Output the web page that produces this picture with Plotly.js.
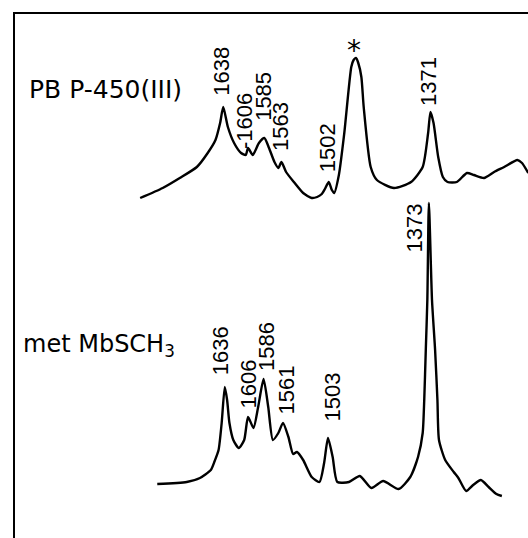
<!DOCTYPE html>
<html>
<head>
<meta charset="utf-8">
<script src="https://cdn.plot.ly/plotly-3.0.1.min.js"></script>
<style>
  html, body { margin: 0; padding: 0; background: #ffffff; }
  #chart { width: 528px; height: 538px; }
</style>
</head>
<body>
<div id="chart"></div>
<script>
// Resonance Raman spectra, high-frequency region (cm^-1), intensities in arbitrary units.

// PB P-450(III)
const topWavenumber = [1745, 1716, 1694, 1672, 1658, 1648, 1642, 1638, 1632, 1624,
  1615, 1609, 1606, 1600, 1592, 1585, 1579, 1572, 1567, 1563,
  1557, 1547, 1535, 1524, 1517, 1511, 1507, 1502, 1498, 1495,
  1489, 1482, 1473, 1470, 1467, 1464, 1460, 1457, 1448, 1440,
  1418, 1396, 1381, 1374, 1371, 1367, 1361, 1355, 1349, 1337,
  1324, 1315, 1302, 1289, 1276, 1259, 1253, 1245];
const topIntensity = [12, 22, 32, 43, 57, 70, 87, 103, 83, 67,
  57, 55, 62, 55, 67, 72, 62, 48, 42, 48,
  38, 28, 17, 12, 13, 16, 21, 28, 20, 17,
  35, 77, 143, 150, 152, 147, 133, 103, 43, 30,
  22, 28, 43, 77, 98, 87, 53, 33, 28, 28,
  37, 35, 32, 38, 43, 50, 47, 37];

// met MbSCH3
const bottomWavenumber = [1723, 1685, 1668, 1654, 1649, 1644, 1640, 1636, 1633, 1630,
  1625, 1618, 1611, 1606, 1599, 1593, 1586, 1580, 1574, 1567,
  1561, 1554, 1548, 1543, 1535, 1524, 1514, 1508, 1503, 1497,
  1491, 1476, 1462, 1447, 1432, 1412, 1397, 1387, 1381, 1379,
  1377, 1375, 1373, 1369, 1365, 1362, 1360, 1352, 1341, 1335,
  1325, 1316, 1306, 1296, 1286, 1279];
const bottomIntensity = [16, 18, 22, 30, 39, 50, 77, 113, 100, 77,
  60, 52, 60, 83, 72, 93, 121, 93, 60, 67,
  77, 63, 46, 48, 40, 23, 18, 37, 62, 43,
  18, 18, 24, 12, 19, 11, 23, 43, 67, 100,
  150, 200, 297, 200, 150, 100, 60, 40, 28, 22,
  9, 15, 20, 13, 6, 4];

// Peak assignments marked on each spectrum
const topPeakLabels = [1638, 1606, 1585, 1563, 1502, 1371];
const bottomPeakLabels = [1636, 1606, 1586, 1561, 1503, 1373];

// Sample names
const topName = 'PB P-450(III)';
const bottomName = 'met MbSCH<sub>3</sub>';

// Vertical stacking of the two spectra
const TOP_OFFSET = 328;
const BOTTOM_OFFSET = 38;

// Label placement tweaks in pixels: [xshift, yshift] and an optional prefix
const topLabelPlacement = {
  1638: [-2, 10, ''], 1606: [-4, -2, '-'], 1585: [-1, 16, ''],
  1563: [-1, 10, ''], 1502: [-1, 9, ''], 1371: [-2, 5, '']
};
const bottomLabelPlacement = {
  1636: [-4, 11, ''], 1606: [0, 7, ''], 1586: [3, 7, ''],
  1561: [4, 8, ''], 1503: [4, 15, ''], 1373: [-14, -50, '']
};

const shifted = (arr, off) => arr.map(v => v + off);

const lineStyle = { color: '#000000', width: 2.4, shape: 'spline', smoothing: 0.6 };

const traces = [
  { x: topWavenumber, y: shifted(topIntensity, TOP_OFFSET), mode: 'lines',
    line: lineStyle, hoverinfo: 'skip', showlegend: false },
  { x: bottomWavenumber, y: shifted(bottomIntensity, BOTTOM_OFFSET), mode: 'lines',
    line: lineStyle, hoverinfo: 'skip', showlegend: false }
];

const labelFont = { family: 'Liberation Sans, Arial, sans-serif', size: 22, color: '#000000' };
const topNameFont = { family: 'DejaVu Sans, sans-serif', size: 25, color: '#000000' };
const bottomNameFont = { family: 'DejaVu Sans, sans-serif', size: 24, color: '#000000' };

function peakAnnotations(wn, inten, offset, labels, placement) {
  return labels.map(v => {
    const i = wn.indexOf(v);
    const p = placement[v];
    return {
      x: v, y: inten[i] + offset, xref: 'x', yref: 'y',
      text: p[2] + String(v), textangle: -90, showarrow: false,
      xanchor: 'center', yanchor: 'bottom', xshift: p[0], yshift: p[1],
      font: labelFont, borderpad: 0
    };
  });
}

const annotations = [
  ...peakAnnotations(topWavenumber, topIntensity, TOP_OFFSET, topPeakLabels, topLabelPlacement),
  ...peakAnnotations(bottomWavenumber, bottomIntensity, BOTTOM_OFFSET, bottomPeakLabels, bottomLabelPlacement)
];

// Asterisk over the strongest band of the upper spectrum
const starIdx = topIntensity.indexOf(Math.max(...topIntensity));
annotations.push({
  x: topWavenumber[starIdx], y: topIntensity[starIdx] + TOP_OFFSET, xref: 'x', yref: 'y',
  text: '*', showarrow: false, xanchor: 'center', yanchor: 'middle', xshift: -2, yshift: 8,
  font: { family: 'DejaVu Sans, sans-serif', size: 28, color: '#000000' }
});

annotations.push({
  x: 0.023, y: 0.855, xref: 'paper', yref: 'paper', text: topName, showarrow: false,
  xanchor: 'left', yanchor: 'middle', font: topNameFont
});
annotations.push({
  x: 0.011, y: 0.368, xref: 'paper', yref: 'paper', text: bottomName, showarrow: false,
  xanchor: 'left', yanchor: 'middle', font: bottomNameFont
});

const layout = {
  width: 528, height: 538,
  margin: { l: 15, r: 0, t: 14, b: 0, pad: 0 },
  paper_bgcolor: '#ffffff', plot_bgcolor: '#ffffff',
  showlegend: false,
  xaxis: {
    range: [1906.3, 1245.3], side: 'top', showline: true, linecolor: '#000000', linewidth: 2.5,
    showgrid: false, zeroline: false, showticklabels: false, ticks: '', fixedrange: true
  },
  yaxis: {
    range: [0, 524], showline: true, linecolor: '#000000', linewidth: 2.5,
    showgrid: false, zeroline: false, showticklabels: false, ticks: '', fixedrange: true
  },
  annotations: annotations
};

Plotly.newPlot('chart', traces, layout, { staticPlot: true, displayModeBar: false });
</script>
</body>
</html>
